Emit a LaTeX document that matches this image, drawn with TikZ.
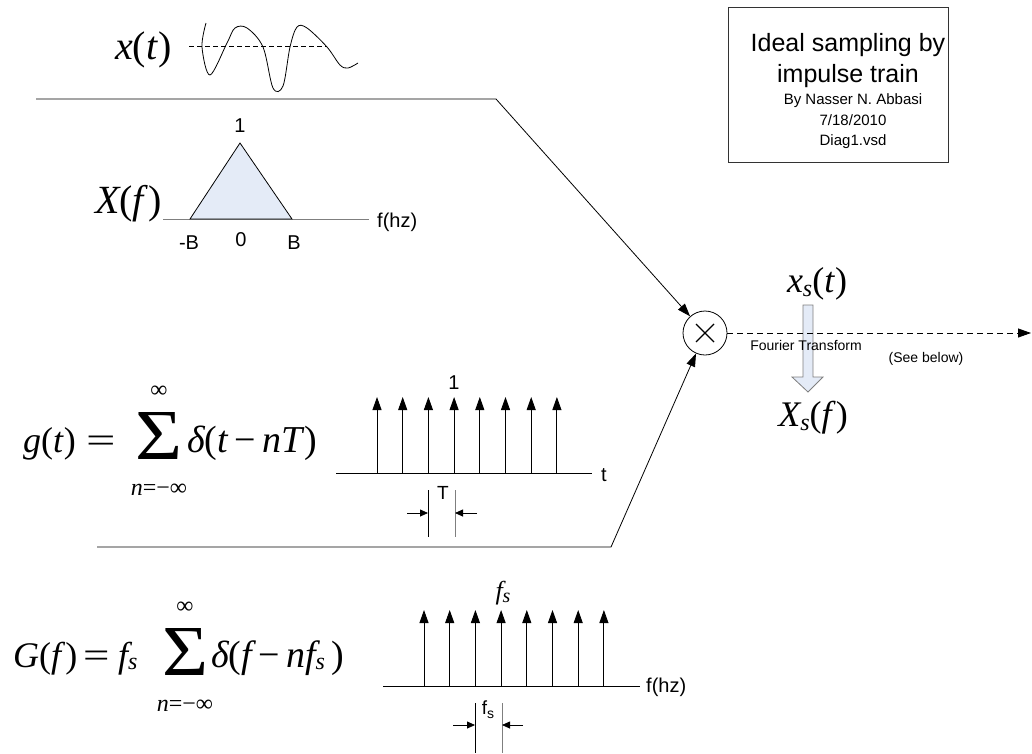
\documentclass[tikz,border=0pt]{standalone}
\usepackage{fontspec}
\usepackage{graphicx}
\setmainfont{Liberation Sans}
\newfontfamily\tnr{Liberation Serif}
\usetikzlibrary{arrows.meta}
\definecolor{fillblue}{HTML}{E4EBF7}
\definecolor{axgray}{HTML}{7F7F7F}
\newcommand\fs[1]{\fontsize{#1}{#1}\selectfont}
\begin{document}
\begin{tikzpicture}[x=1pt,y=-1pt,
  lbl/.style={inner sep=0pt, font=\fs{20}},
  eq/.style={inner sep=0pt, anchor=base west, font=\tnr\fs{36}},
  eqc/.style={inner sep=0pt, anchor=base, font=\tnr\fs{36}},
  lim/.style={inner sep=0pt, font=\tnr\fs{24}},
  sig/.style={inner sep=0pt, anchor=south west, font=\tnr\fs{20}},
  imp/.style={-{Triangle[length=13pt,width=9pt]}, line width=0.9pt},
  dimarrow/.style={-{Triangle[length=8pt,width=7pt]}, line width=0.8pt},
  conn/.style={-{Triangle[length=13pt,width=9pt]}, line width=0.8pt},
]
\useasboundingbox (0,0) rectangle (1032,753);

% ---------- title box ----------
\node (title) [draw=black!80, line width=0.8pt, minimum width=220pt, minimum height=155pt, inner sep=0] at (838,84.5) {};
\node (t1) [inner sep=0, anchor=base, font=\fs{25}] at (848,51) {Ideal sampling by};
\node (t2) [inner sep=0, anchor=base, font=\fs{25}] at (848,82) {impulse train};
\node (t3) [inner sep=0, anchor=base, font=\fs{15}] at (853,104) {By Nasser N. Abbasi};
\node (t4) [inner sep=0, anchor=base, font=\fs{15}] at (853,125) {7/18/2010};
\node (t5) [inner sep=0, anchor=base, font=\fs{15}] at (853,145) {Diag1.vsd};

% ---------- x(t) ----------
\node (xt) [eq, font=\tnr\fs{40}] at (115,59) {{\itshape x}({\itshape t\/})};
\draw[line width=0.8pt, dash pattern=on 5pt off 3pt] (189,46) -- (327,46);
\draw[line width=0.8pt] plot[smooth, tension=0.55] coordinates {(206,23) (202,47) (210,75) (227,43) (235,28) (247,28) (263,47) (273,88) (283,86) (290,47) (297,27) (307,28) (327,47) (340,65) (348,68) (358,63)};

% ---------- X(f) ----------
\node (Xf) [eq, font=\tnr\fs{40}] at (95,213) {{\itshape X}({\itshape f\/})};
\draw[axgray, line width=1pt] (163,219) -- (369,219);
\draw[fill=fillblue, line width=0.8pt] (190,219) -- (240,143) -- (292,219) -- cycle;
\node (Xone) [lbl] at (240,126) {1};
\node (Xhz) [lbl, anchor=west] at (377,222) {f(hz)};
\node (XmB) [lbl] at (189,243) {-B};
\node (Xzero) [lbl] at (241,240) {0};
\node (XB) [lbl] at (294,243) {B};

% ---------- multiplier ----------
\node (mult) [circle, draw, line width=0.8pt, minimum size=44pt, inner sep=0] at (705,333) {};
\draw[line width=1.1pt] (696,324) -- (714,342) (696,342) -- (714,324);

% input connectors
\coordinate (xin) at (36,99);
\coordinate (xbend) at (496,99);
\draw[conn] (xin) -- (xbend) -- (mult);
\coordinate (gin) at (97,547);
\coordinate (gbend) at (611,547);
\draw[conn] (gin) -- (gbend) -- (mult);

% Fourier transform block arrow
\draw[fill=fillblue, draw=axgray, line width=0.8pt] (803,305) -- (813,305) -- (813,377) -- (823,377) -- (808,392) -- (792,377) -- (803,377) -- cycle;

% output
\coordinate (out) at (1031,333);
\draw[conn, dash pattern=on 6pt off 4pt] (mult) -- (out);

\node (xst) [eqc] at (817,292) {{\itshape x}\raisebox{-4pt}{\fs{24}\itshape s}({\itshape t\/})};
\node (Xsf) [eqc] at (813,426) {{\itshape X}\raisebox{-4pt}{\fs{24}\itshape s}({\itshape f\/})};
\node (ft) [inner sep=0, font=\fs{14}] at (806,345) {Fourier Transform};
\node (see) [inner sep=0, font=\fs{14}] at (926,359) {(See below)};

% ---------- g(t) ----------
\node (gt) [eq] at (23,452) {{\itshape g}({\itshape t\/})};
\node (geq) [eq] at (86,452) {\scalebox{1.45}[1]{=}};
\node (gsum) [sig] at (135,460) {\resizebox{47pt}{47pt}{Σ}};
\node (ginf) [lim] at (159,392) {∞};
\node (gn) [lim] at (159,490) {{\itshape n}=−∞};
\node (gd) [eq, font=\tnr\fs{38}] at (187,452) {{\itshape δ}({\itshape t}\,−\,{\itshape nT}\/)};

\draw[line width=0.9pt] (336,473) -- (592,473);
\foreach \k in {0,...,7} \draw[imp] ({377+25.7*\k},473) -- ({377+25.7*\k},397);
\node (gone) [lbl] at (454,383) {1};
\node (gtl) [lbl] at (604,475) {t};
\draw[line width=0.8pt] (428,490) -- (428,537);
\draw[axgray, line width=0.8pt] (455,490) -- (455,537);
\draw[dimarrow] (407,513) -- (428,513);
\draw[dimarrow] (477,513) -- (455,513);
\node (gT) [lbl, font=\fs{19}] at (443,493) {T};

% ---------- G(f) ----------
\node (Gf) [eq] at (13,667) {{\itshape G}({\itshape f\/})};
\node (Geq) [eq] at (83,667) {\scalebox{1.3}[1]{=}};
\node (Gfs) [eq] at (118,667) {{\itshape f}\raisebox{-2pt}{\fs{24}\itshape s}};
\node (Gsum) [sig] at (162,676) {\resizebox{46pt}{47pt}{Σ}};
\node (Ginf) [lim] at (185,608) {∞};
\node (Gn) [lim] at (185,706) {{\itshape n}=−∞};
\node (Gd) [eq, font=\tnr\fs{38}] at (211,667) {{\itshape δ}({\itshape f}\,−\,{\itshape nf}\raisebox{-2pt}{\fs{24}\itshape s}\,)};

\draw[line width=0.9pt] (383,686) -- (640,686);
\foreach \k in {0,...,7} \draw[imp] ({424+25.7*\k},686) -- ({424+25.7*\k},610);
\node (Gfsl) [inner sep=0, anchor=base, font=\tnr\fs{26}] at (503,599) {{\itshape f}\raisebox{-3pt}{\fs{20}\itshape s}};
\node (Ghz) [lbl, anchor=west] at (646,687) {f(hz)};
\draw[line width=0.8pt] (475,703) -- (475,753);
\draw[axgray, line width=0.8pt] (502,703) -- (502,753);
\draw[dimarrow] (453,725) -- (475,725);
\draw[dimarrow] (523,725) -- (502,725);
\node (Gfsd) [inner sep=0, font=\fs{19}] at (488,710) {f\raisebox{-4pt}{\fs{14}s}};
\end{tikzpicture}
\end{document}
